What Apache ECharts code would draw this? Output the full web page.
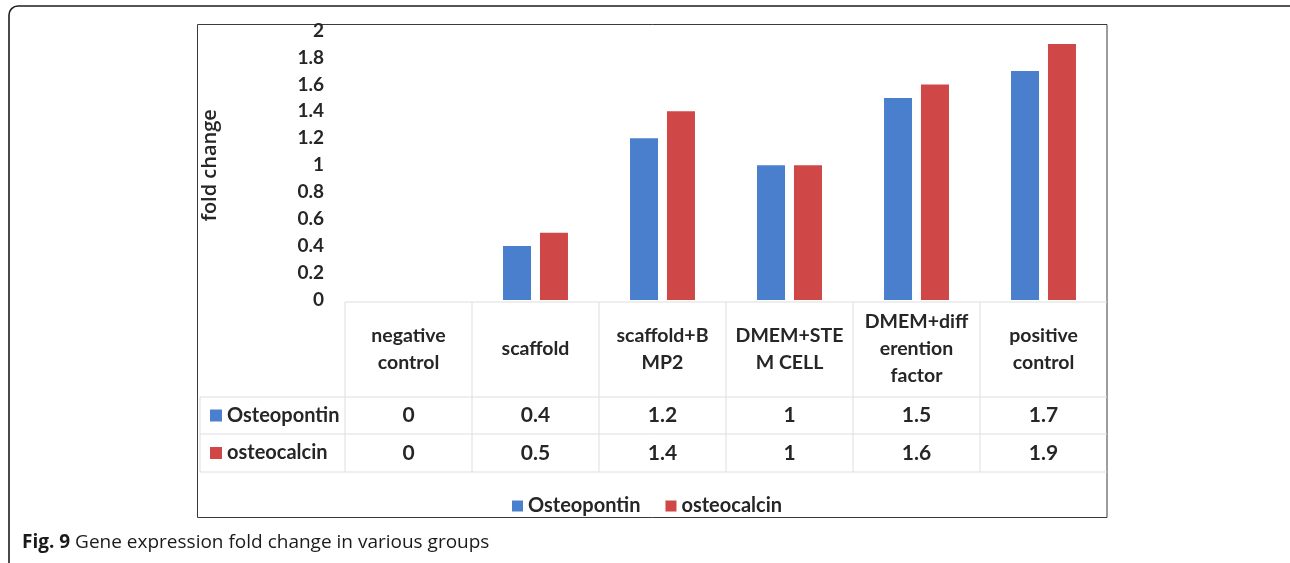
<!DOCTYPE html>
<html>
<head>
<meta charset="utf-8">
<title>Gene expression fold change</title>
<script src="https://cdn.jsdelivr.net/npm/echarts@6/dist/echarts.min.js"></script>
<style>
  html, body { margin: 0; padding: 0; background: #fff; }
  #chart { width: 1290px; height: 563px; }
</style>
</head>
<body>
<div id="chart"></div>
<script>
// Groups shown along the category axis
const categories = ['negative control', 'scaffold', 'scaffold+BMP2', 'DMEM+STEM CELL', 'DMEM+differention factor', 'positive control'];
// Wrapped header text for each group, as laid out in the data-table header
const tickLabels = ['negative\ncontrol', 'scaffold', 'scaffold+B\nMP2', 'DMEM+STE\nM CELL', 'DMEM+diff\nerention\nfactor', 'positive\ncontrol'];
// Fold change per gene
const seriesNames = ['Osteopontin', 'osteocalcin'];
const osteopontin = [0, 0.4, 1.2, 1, 1.5, 1.7];
const osteocalcin = [0, 0.5, 1.4, 1, 1.6, 1.9];
const seriesColors = ['#4a7fcd', '#cf4747'];
const captionBold = 'Fig. 9';
const captionText = ' Gene expression fold change in various groups';

const FONT = 'Lato, "Open Sans", sans-serif';
const TEXT = '#262626';
const GRID_LINE = '#dedede';

const chart = echarts.init(document.getElementById('chart'), null, { renderer: 'canvas' });

const gridLeft = 345, gridRight = 183, gridTop = 30.5, gridBottom = 263;

chart.setOption({
  animation: false,
  backgroundColor: '#fff',
  grid: { left: gridLeft, right: gridRight, top: gridTop, bottom: gridBottom, containLabel: false },
  legend: {
    data: seriesNames,
    left: 507,
    top: 491,
    itemWidth: 11,
    itemHeight: 11,
    itemGap: 25,
    icon: 'rect',
    textStyle: { fontFamily: FONT, fontWeight: 'bold', fontSize: 20, color: TEXT }
  },
  xAxis: {
    type: 'category',
    data: categories,
    axisLine: { show: false },
    axisTick: { show: false },
    splitLine: { show: false },
    axisLabel: {
      interval: 0,
      margin: 49,
      verticalAlign: 'middle',
      fontFamily: FONT,
      fontWeight: 'bold',
      fontSize: 19.5,
      lineHeight: 27,
      color: TEXT,
      formatter: (v, i) => tickLabels[i]
    }
  },
  yAxis: {
    type: 'value',
    min: 0,
    max: 2,
    interval: 0.2,
    name: 'fold change',
    nameLocation: 'middle',
    nameRotate: 90,
    nameGap: 125,
    nameTextStyle: { fontFamily: '"Open Sans", sans-serif', fontWeight: 600, fontSize: 20, color: TEXT },
    axisLine: { show: false },
    axisTick: { show: false },
    splitLine: { show: false },
    axisLabel: { margin: 21, fontFamily: FONT, fontWeight: 'bold', fontSize: 19, color: TEXT }
  },
  series: [
    { name: seriesNames[0], type: 'bar', data: osteopontin, barWidth: 28, barGap: '32%', itemStyle: { color: seriesColors[0] } },
    { name: seriesNames[1], type: 'bar', data: osteocalcin, barWidth: 28, barGap: '32%', itemStyle: { color: seriesColors[1] } }
  ]
});

// Data table, frames and caption, positioned from the category axis scale
function buildGraphics() {
  const n = categories.length;
  const centers = categories.map((c, i) => chart.convertToPixel({ xAxisIndex: 0 }, i));
  const band = (1290 - gridLeft - gridRight) / n;
  const bounds = centers.map(c => c - band / 2);
  bounds.push(centers[n - 1] + band / 2);

  const tableTop = 302, row1Top = 397, row2Top = 434, tableBottom = 472;
  const tableLeft = 200, tableRight = bounds[n];
  const els = [];

  // outer rounded panel
  els.push({ type: 'rect', shape: { x: 9, y: 6, width: 1292, height: 565, r: 9 }, style: { fill: 'none', stroke: '#1e1e1e', lineWidth: 1.6 }, silent: true });
  // chart frame
  els.push({ type: 'rect', shape: { x: 197.5, y: 24.5, width: tableRight - 197.5, height: 493 }, style: { fill: 'none', stroke: '#3a3a3a', lineWidth: 1 }, silent: true });

  const line = (x1, y1, x2, y2) => ({ type: 'line', shape: { x1, y1, x2, y2 }, style: { stroke: GRID_LINE, lineWidth: 1 }, silent: true });
  els.push(line(bounds[0], tableTop, tableRight, tableTop));
  [row1Top, row2Top, tableBottom].forEach(y => els.push(line(tableLeft, y, tableRight, y)));
  bounds.slice(0, n).forEach(x => els.push(line(x, tableTop, x, tableBottom)));
  els.push(line(tableLeft, row1Top, tableLeft, tableBottom));

  const rows = [osteopontin, osteocalcin];
  const rowCenters = [(row1Top + row2Top) / 2, (row2Top + tableBottom) / 2];
  rows.forEach((vals, r) => {
    const cy = rowCenters[r];
    els.push({ type: 'rect', shape: { x: 210, y: cy - 6, width: 12, height: 12 }, style: { fill: seriesColors[r] }, silent: true });
    els.push({ type: 'text', x: 227, y: cy, style: { text: seriesNames[r], font: 'bold 20px ' + FONT, fill: TEXT, textVerticalAlign: 'middle', textAlign: 'left' }, silent: true });
    vals.forEach((v, i) => {
      els.push({ type: 'text', x: centers[i], y: cy, style: { text: String(v), font: 'bold 21px ' + FONT, fill: TEXT, textAlign: 'center', textVerticalAlign: 'middle' }, silent: true });
    });
  });

  // caption
  els.push({
    type: 'text', x: 22, y: 543,
    style: {
      text: '{b|' + captionBold + '}{r|' + captionText + '}',
      rich: {
        b: { fontFamily: '"Open Sans", sans-serif', fontWeight: 'bold', fontSize: 19, fill: '#1a1a1a' },
        r: { fontFamily: '"Open Sans", sans-serif', fontWeight: 'normal', fontSize: 19, fill: '#1a1a1a' }
      },
      textVerticalAlign: 'middle'
    },
    silent: true
  });

  chart.setOption({ graphic: { elements: els } });
}
buildGraphics();
</script>
</body>
</html>
